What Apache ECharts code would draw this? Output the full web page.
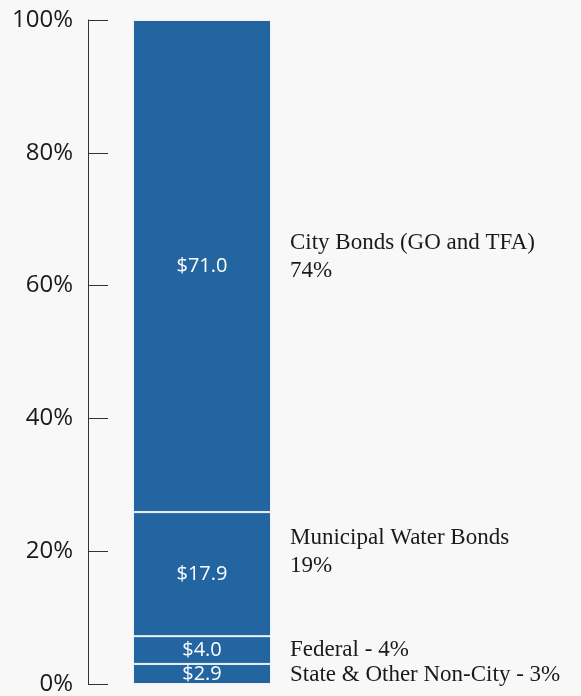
<!DOCTYPE html>
<html>
<head>
<meta charset="utf-8">
<script src="https://cdn.jsdelivr.net/npm/echarts@6/dist/echarts.min.js"></script>
<style>
  html, body { margin: 0; padding: 0; background: #f8f8f8; }
  #chart { width: 581px; height: 696px; }
</style>
</head>
<body>
<div id="chart"></div>
<script>
// funding sources, bottom to top (billions)
const sources = ['State & Other Non-City', 'Federal', 'Municipal Water Bonds', 'City Bonds (GO and TFA)']
const amounts = [2.9, 4.0, 17.9, 71.0]
const shares = [3, 4, 19, 74]
const twoLine = [false, false, true, true]
const yTicks = [0, 20, 40, 60, 80, 100]

// label nudges (px) so the side text sits like the original
const labelDy = [1, 0, -22, -9]

const total = amounts.reduce((a, b) => a + b, 0)
const myChart = echarts.init(document.getElementById('chart'))

let cum = 0
const series = amounts.map((v, i) => {
  const pct = v / total * 100
  const mid = cum + pct / 2
  cum += pct
  const sideText = twoLine[i] ? sources[i] + '\n' + shares[i] + '%' : sources[i] + ' - ' + shares[i] + '%'
  return {
    name: sources[i],
    type: 'bar',
    stack: 'all',
    barWidth: 138,
    data: [pct],
    itemStyle: {
      color: '#2265a0',
      borderColor: 'rgba(255,255,255,0.85)',
      borderWidth: 1
    },
    label: {
      show: true,
      position: 'inside',
      color: '#ffffff',
      fontFamily: 'Open Sans',
      fontSize: 20,
      formatter: () => '$' + v.toFixed(1)
    },
    markPoint: {
      symbol: 'rect',
      symbolSize: 0,
      silent: true,
      data: [{coord: [0, mid]}],
      label: {
        show: true,
        position: 'right',
        distance: 0,
        offset: [88, labelDy[i]],
        align: 'left',
        color: '#1a1a1a',
        fontFamily: 'Liberation Serif',
        fontSize: 23,
        lineHeight: 28,
        formatter: () => sideText
      }
    }
  }
})

let option = {
  backgroundColor: '#f8f8f8',
  animation: false,
  grid: {
    left: 88,
    right: 265,
    top: 20,
    bottom: 11
  },
  xAxis: {
    type: 'category',
    data: ['Funding'],
    show: false
  },
  yAxis: {
    type: 'value',
    min: yTicks[0],
    max: yTicks[yTicks.length - 1],
    interval: 20,
    axisLine: {show: true, lineStyle: {color: '#333', width: 1}},
    axisTick: {show: true, inside: true, length: 20, lineStyle: {color: '#333', width: 1}},
    splitLine: {show: false},
    axisLabel: {
      margin: 15,
      color: '#1a1a1a',
      fontFamily: 'Open Sans',
      fontSize: 24,
      formatter: '{value}%'
    }
  },
  series: series
}
myChart.setOption(option)
</script>
</body>
</html>
